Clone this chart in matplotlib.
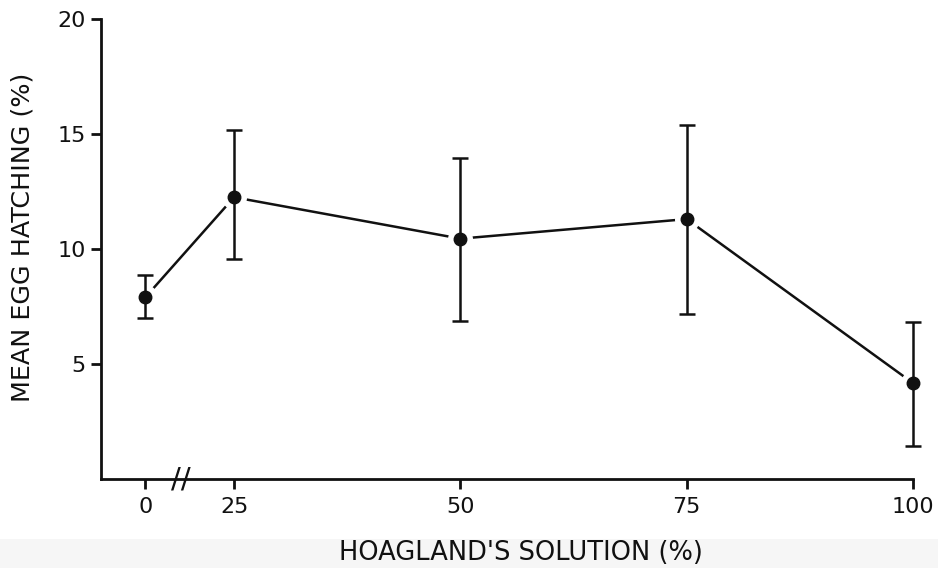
import matplotlib
matplotlib.use("Agg")
import matplotlib.pyplot as plt
from matplotlib.patches import Rectangle

# Data
hoagland = [0, 25, 50, 75, 100]            # % Hoagland's solution (tick labels)
mean_hatch = [7.9, 12.25, 10.45, 11.3, 4.17]
upper = [8.87, 15.16, 13.94, 15.37, 6.84]
lower = [7.0, 9.55, 6.88, 7.19, 1.45]
y_ticks = [5, 10, 15, 20]

# broken x axis: the 0 group is drawn closer to 25
def xpos(v):
    return v if v > 0 else 15.2

pos = [xpos(v) for v in hoagland]
err_lo = [m - l for m, l in zip(mean_hatch, lower)]
err_hi = [u - m for m, u in zip(mean_hatch, upper)]

plt.rcParams['font.family'] = ['DejaVu Sans']

fig = plt.figure(figsize=(9.38, 5.68), dpi=100)
fig.patches.append(Rectangle((0, 0), 1, 1 - 539 / 568, transform=fig.transFigure,
                             facecolor='#f6f6f6', edgecolor='none', zorder=0))
ax = fig.add_axes([101 / 938, 1 - 479 / 568, (913 - 101) / 938, (479 - 19) / 568])

ink = '#111111'
lw = 1.8
ax.plot(pos, mean_hatch, color=ink, lw=lw, zorder=2, clip_on=False)
# white halo to leave small gaps around the points
ax.plot(pos, mean_hatch, 'o', ms=17, color='white', mec='white', zorder=3, clip_on=False)
ax.errorbar(pos, mean_hatch, yerr=[err_lo, err_hi], fmt='none', ecolor=ink,
            elinewidth=lw, capsize=5.5, capthick=lw, zorder=4, clip_on=False)
ax.plot(pos, mean_hatch, 'o', ms=9, color=ink, zorder=5, clip_on=False)

ax.set_xlim(10.3, 100)
ax.set_ylim(0, 20)
ax.set_xticks(pos)
ax.set_xticklabels([str(v) for v in hoagland])
ax.set_yticks(y_ticks)
ax.set_yticklabels([str(v) for v in y_ticks])

for s in ['top', 'right']:
    ax.spines[s].set_visible(False)
for s in ['left', 'bottom']:
    ax.spines[s].set_linewidth(2.0)
    ax.spines[s].set_color(ink)
ax.tick_params(axis='both', direction='out', length=7, width=2.0, color=ink,
               labelsize=16, labelcolor=ink)
ax.tick_params(axis='x', pad=6)
ax.tick_params(axis='y', pad=4)

# axis break marks
ax.text((pos[0] + pos[1]) / 2 - 1.0, 0, '//', transform=ax.transData, ha='center', va='center',
        fontsize=21, color=ink, clip_on=False, zorder=6)

fig.text(23 / 938, 1 - 237 / 568, "MEAN EGG HATCHING (%)", rotation=90,
         ha='center', va='center', fontsize=18.3, color=ink)
fig.text(521 / 938, 1 - 553 / 568, "HOAGLAND'S SOLUTION (%)", ha='center', va='center',
         fontsize=18.5, color=ink)

fig.savefig("out.png", dpi=100)
